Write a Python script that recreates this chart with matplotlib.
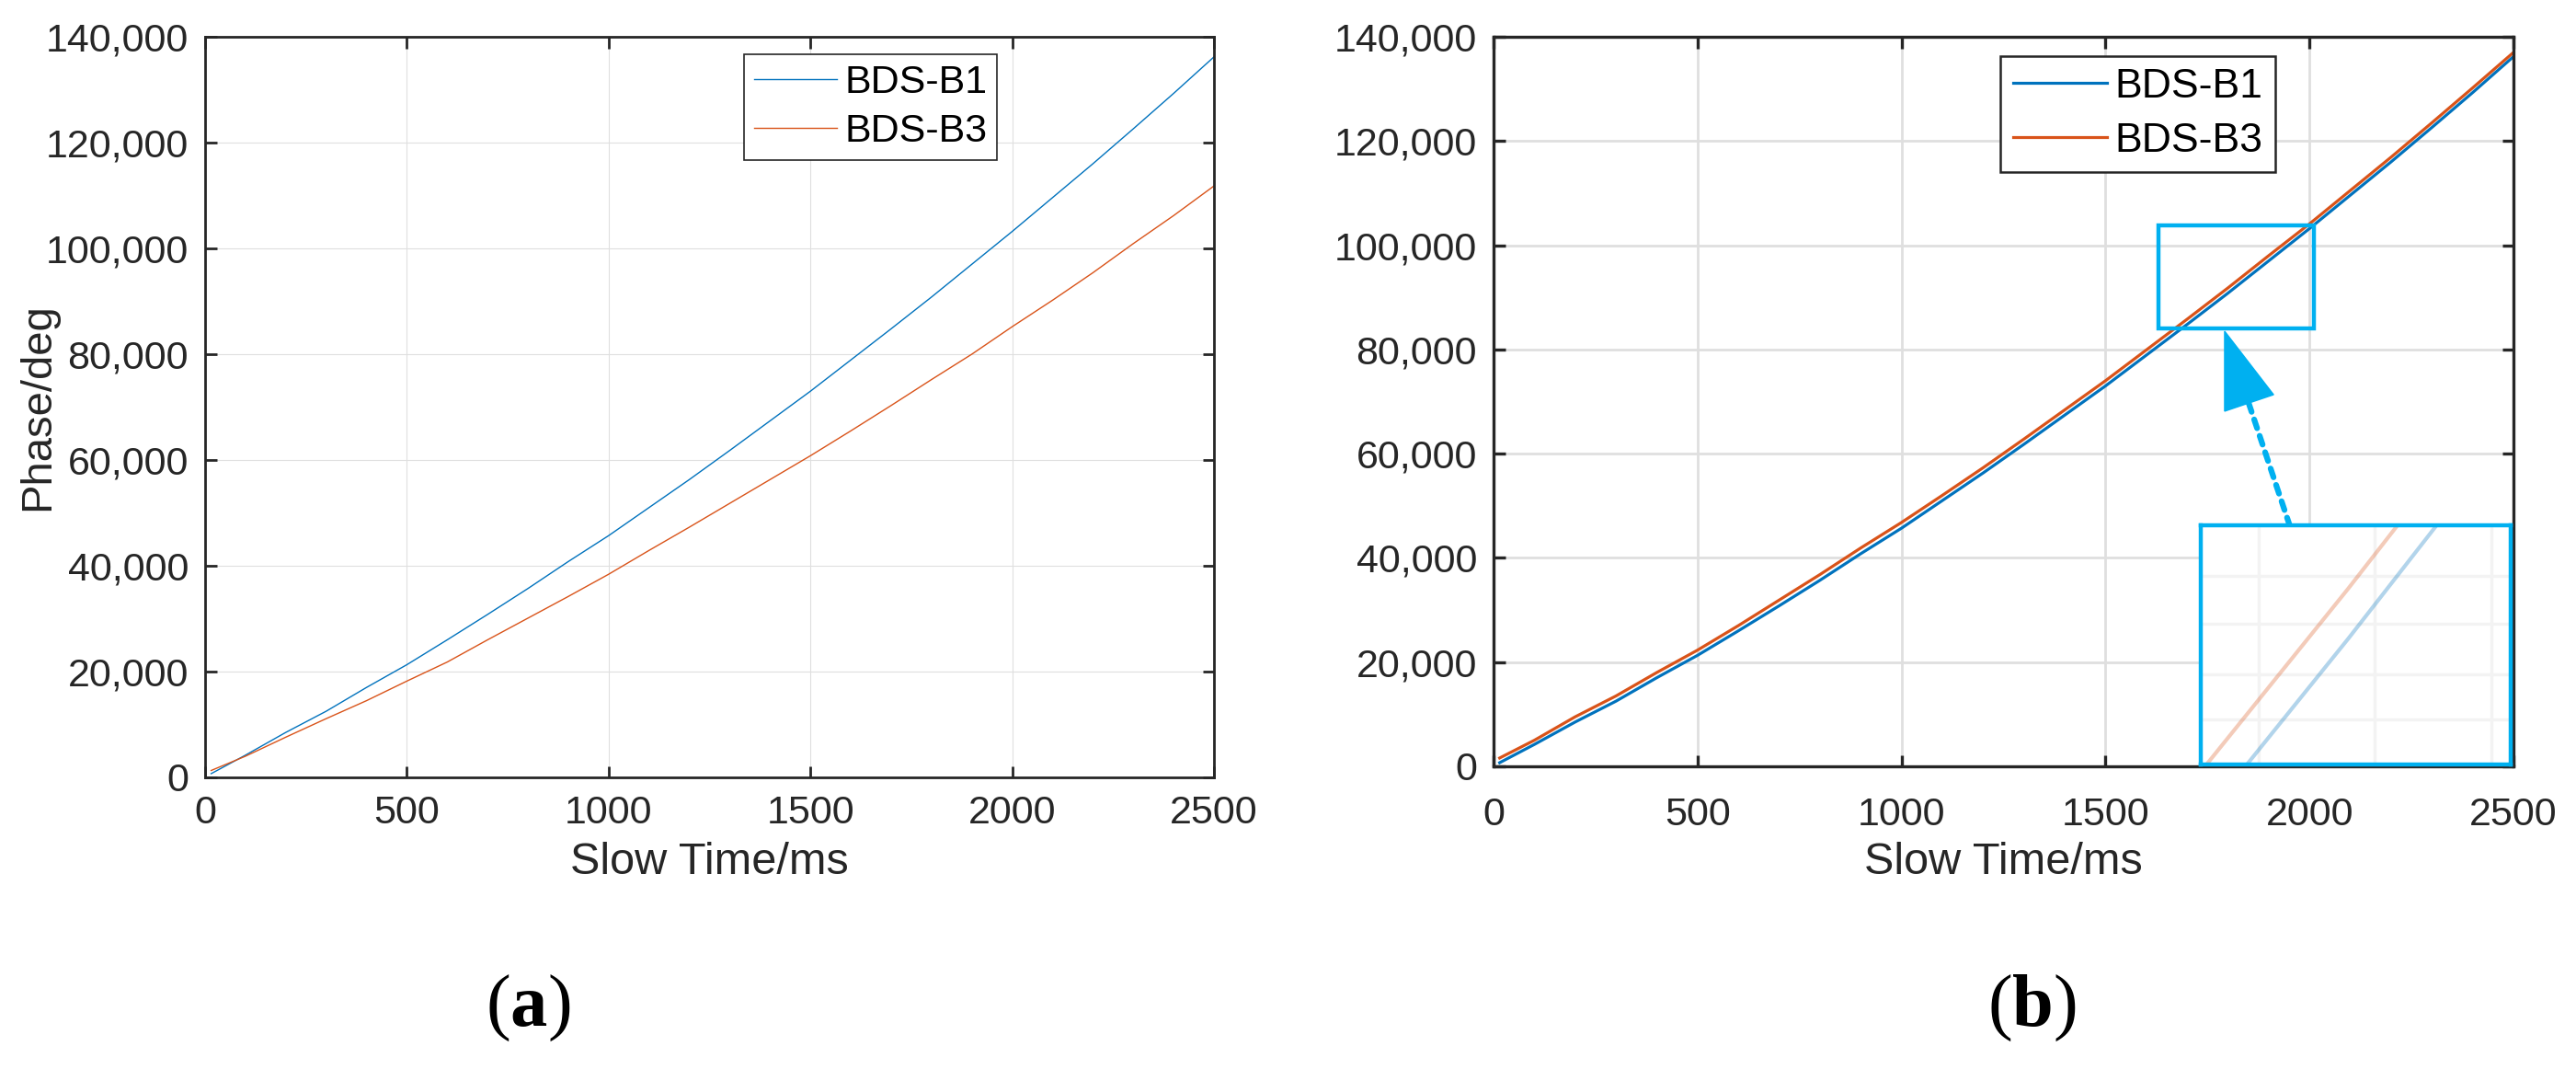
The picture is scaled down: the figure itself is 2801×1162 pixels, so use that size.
import numpy as np
import matplotlib as mpl
import matplotlib.pyplot as plt
from matplotlib.ticker import StrMethodFormatter
from matplotlib.patches import Rectangle, Polygon
mpl.use('Agg')

plt.rcParams['font.family'] = ['Liberation Sans', 'DejaVu Sans']
plt.rcParams['mathtext.fontset'] = 'custom'
plt.rcParams['mathtext.rm'] = 'Liberation Serif'
plt.rcParams['mathtext.bf'] = 'Liberation Serif:bold'

# slow time axis (ms)
t = [15, 100, 200, 300, 400, 500, 600, 700, 800, 900, 1000, 1100, 1200, 1300,
     1400, 1500, 1600, 1700, 1800, 1900, 2000, 2100, 2200, 2300, 2400, 2500]

# (a) raw phase
b1 = [700, 4200, 8500, 12500, 17000, 21300, 26000, 30800, 35700, 40800, 45700,
      51000, 56300, 61800, 67400, 73000, 78900, 84800, 90800, 97000, 103200,
      109600, 116000, 122600, 129300, 136200]
b3 = [1300, 4000, 7600, 11100, 14500, 18200, 21800, 26000, 30100, 34200, 38400,
      42900, 47300, 51800, 56300, 60800, 65500, 70300, 75200, 80000, 85200,
      90200, 95400, 100900, 106200, 111800]

# (b) B3 phase after frequency scaling
b3_scaled = [1600, 5000, 9500, 13500, 18000, 22300, 27000, 31900, 36800, 41900,
             46800, 52000, 57300, 62800, 68400, 74000, 79900, 85800, 91800,
             98000, 104100, 110500, 116900, 123500, 130200, 137000]

labels = ['BDS-B1', 'BDS-B3']
xticks = [0, 500, 1000, 1500, 2000, 2500]
yticks = [0, 20000, 40000, 60000, 80000, 100000, 120000, 140000]

blue = '#0072BD'
orange = '#D95319'
cyan = '#00B0F0'
dark = '#262626'

W, H = 2801, 1162
fig = plt.figure(figsize=(W / 100, H / 100), dpi=100)

ax1 = fig.add_axes([223 / W, 1 - 845 / H, 1097 / W, 805 / H])
ax2 = fig.add_axes([1624 / W, 1 - 833 / H, 1109 / W, 793 / H])


def style(ax, lw, glw, xpad):
    ax.set_xlim(0, 2500)
    ax.set_ylim(0, 140000)
    ax.set_xticks(xticks)
    ax.set_yticks(yticks)
    ax.yaxis.set_major_formatter(StrMethodFormatter('{x:,.0f}'))
    ax.grid(True, color='#dfdfdf', lw=glw)
    ax.set_axisbelow(True)
    for s in ax.spines.values():
        s.set_linewidth(lw)
        s.set_color(dark)
    ax.tick_params(direction='in', top=True, right=True, length=9, width=lw,
                   colors=dark, labelsize=31)
    ax.tick_params(axis='x', pad=xpad)
    ax.tick_params(axis='y', pad=13)
    ax.set_xlabel('Slow Time/ms', fontsize=35, color=dark)


# ---- (a)
ax1.plot(t, b1, color=blue, lw=1.0, label=labels[0])
ax1.plot(t, b3, color=orange, lw=1.0, label=labels[1])
style(ax1, 2.0, 0.8, 14)
ax1.xaxis.set_label_coords(0.5, -0.087)
ax1.set_ylabel('Phase/deg', fontsize=34, color=dark)
ax1.yaxis.set_label_coords(-0.146, 0.5)
leg = ax1.legend(loc='upper left', bbox_to_anchor=(0.534, 0.976), borderaxespad=0,
                 fontsize=31, handlelength=2.1, handletextpad=0.2, borderpad=0.25,
                 labelspacing=0.3, fancybox=False, framealpha=1, edgecolor=dark)
leg.get_frame().set_linewidth(1.2)

# ---- (b)
ax2.plot(t, b1, color=blue, lw=2.3, label=labels[0])
ax2.plot(t, b3_scaled, color=orange, lw=2.3, label=labels[1])
style(ax2, 2.4, 2.0, 24)
ax2.xaxis.set_label_coords(0.5, -0.103)
leg = ax2.legend(loc='upper left', bbox_to_anchor=(0.497, 0.974), borderaxespad=0,
                 fontsize=32, handlelength=2.3, handletextpad=0.2, borderpad=0.3,
                 labelspacing=0.4, fancybox=False, framealpha=1, edgecolor=dark)
leg.get_frame().set_linewidth(1.8)

# zoom box, arrow and magnified view
ax2.add_patch(Rectangle((1630, 84070), 380, 19700, fill=False, ec=cyan, lw=3.2, zorder=5))
ax2.add_patch(Polygon([(1792, 83500), (1792, 68150), (1912, 71320)], closed=True,
                      fc=cyan, ec=cyan, lw=1, zorder=5))
ax2.plot([1851, 1952], [69700, 46100], color=cyan, lw=4.5, ls=(0, (1.6, 1.4)),
         solid_capstyle='round', dash_capstyle='round', zorder=5)

ins = ax2.inset_axes([0.693, 0.003, 0.304, 0.327])
ins.plot(t, b1, color=blue, lw=3, alpha=0.3)
ins.plot(t, b3_scaled, color=orange, lw=3, alpha=0.3)
ins.set_xlim(1739, 1867)
ins.set_ylim(88300, 93060)
ins.set_xticks([1763, 1811, 1859])
ins.set_yticks([89200, 90100, 91100, 92050])
ins.grid(True, color='#f3f3f3', lw=2.5)
ins.set_axisbelow(True)
ins.tick_params(length=0, labelbottom=False, labelleft=False)
for s in ins.spines.values():
    s.set_linewidth(3.2)
    s.set_color(cyan)

# panel captions
fig.text(574 / W, 1 - 1096 / H, r'($\mathbf{a}$)', fontsize=58, family='Liberation Serif',
         ha='center', va='center')
fig.text(2209 / W, 1 - 1096 / H, r'($\mathbf{b}$)', fontsize=58, family='Liberation Serif',
         ha='center', va='center')

fig.savefig('out.png', dpi=100)
